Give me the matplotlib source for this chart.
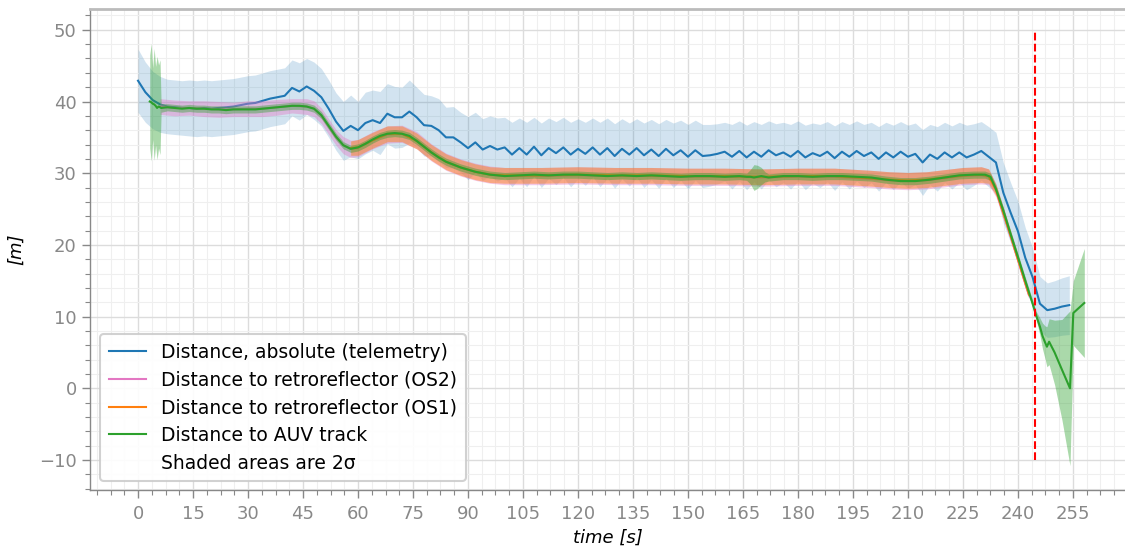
import numpy as np
import matplotlib
matplotlib.use("Agg")
import matplotlib.pyplot as plt
from matplotlib.ticker import MultipleLocator, AutoMinorLocator
from matplotlib.lines import Line2D

# ---------------- data ----------------
# Telemetry (absolute distance)
blue_t = [0, 2, 4, 6, 8, 10, 12, 14, 16, 18, 20, 22, 24, 26, 28, 30,
          32, 34, 36, 38, 40, 42, 44, 46, 48, 50, 52, 54, 56, 58, 60, 62,
          64, 66, 68, 70, 72, 74, 76, 78, 80, 82, 84, 86, 88, 90, 92, 94,
          96, 98, 100, 102, 104, 106, 108, 110, 112, 114, 116, 118, 120, 122, 124, 126,
          128, 130, 132, 134, 136, 138, 140, 142, 144, 146, 148, 150, 152, 154, 156, 158,
          160, 162, 164, 166, 168, 170, 172, 174, 176, 178, 180, 182, 184, 186, 188, 190,
          192, 194, 196, 198, 200, 202, 204, 206, 208, 210, 212, 214, 216, 218, 220, 222,
          224, 226, 228, 230, 232, 234, 236, 238, 240, 242, 244, 246, 248, 250, 252, 254]
blue_v = [42.9, 41.3, 40.2, 39.6, 39.3, 39.2, 39.1, 39.1, 39.0, 39.1, 39.0, 39.1, 39.2, 39.3, 39.5, 39.7,
          39.8, 40.1, 40.4, 40.6, 40.8, 41.9, 41.4, 42.1, 41.5, 40.6, 39.0, 37.2, 35.9, 36.6, 36.0, 37.0,
          37.4, 37.0, 38.3, 37.8, 37.8, 38.6, 37.8, 36.7, 36.6, 36.0, 35.0, 35.0, 34.3, 33.5, 34.3, 33.3,
          33.8, 33.3, 33.6, 32.6, 33.5, 32.6, 33.7, 32.5, 33.5, 32.8, 33.6, 32.6, 33.4, 32.7, 33.6, 32.6,
          33.5, 32.4, 33.4, 32.6, 33.5, 32.5, 33.3, 32.4, 33.4, 32.5, 33.2, 32.3, 33.2, 32.4, 32.5, 32.7,
          33.0, 32.3, 33.1, 32.2, 33.0, 32.3, 33.2, 32.5, 32.9, 32.3, 33.1, 32.2, 32.8, 32.4, 33.0, 32.1,
          33.0, 32.3, 33.1, 32.4, 32.9, 32.0, 32.9, 32.2, 33.0, 32.3, 32.7, 31.5, 32.6, 32.0, 32.9, 32.2,
          32.9, 32.2, 32.6, 33.1, 32.3, 31.5, 27.3, 24.5, 21.9, 18.2, 15.5, 11.8, 10.9, 11.1, 11.4, 11.6]
blue_2s = [4.4, 4.2, 4.0, 3.9, 3.8, 3.8, 3.8, 3.9, 3.9, 3.9, 3.9, 3.9, 3.9, 3.9, 3.9, 3.9,
           3.9, 3.9, 3.9, 3.9, 3.9, 3.9, 4.0, 3.9, 4.0, 4.0, 4.0, 4.0, 4.1, 4.3, 4.0, 4.3,
           4.2, 4.4, 4.2, 4.3, 4.2, 4.4, 4.2, 4.3, 4.2, 4.4, 4.2, 4.3, 4.2, 4.4, 4.2, 4.3,
           4.2, 4.4, 4.2, 4.5, 4.2, 4.5, 4.1, 4.5, 4.2, 4.4, 4.2, 4.5, 4.2, 4.4, 4.1, 4.5,
           4.2, 4.5, 4.2, 4.4, 4.1, 4.5, 4.2, 4.5, 4.1, 4.5, 4.2, 4.5, 4.2, 4.4, 4.3, 4.2,
           4.1, 4.5, 4.2, 4.5, 4.2, 4.5, 4.1, 4.4, 4.2, 4.5, 4.2, 4.5, 4.2, 4.4, 4.2, 4.5,
           4.2, 4.5, 4.2, 4.4, 4.2, 4.5, 4.2, 4.5, 4.2, 4.4, 4.3, 4.6, 4.2, 4.5, 4.2, 4.4,
           4.2, 4.5, 4.3, 4.1, 4.2, 4.2, 4.2, 4.2, 4.2, 4.2, 4.1, 3.8, 3.8, 3.9, 4.0, 4.1]

# Retroreflector OS2
pink_t = [6, 10, 14, 18, 22, 26, 30, 34, 38, 42, 46, 48, 50, 52, 54, 56,
          58, 60, 64, 68, 72, 76, 80, 84, 88, 92, 96, 100, 110, 120, 130, 140,
          150, 160, 170, 180, 190, 200, 205, 210, 215, 220, 225, 230, 232, 234,
          238, 242, 243]
pink_v = [39.3, 39.1, 39.1, 39.0, 38.9, 38.9, 39.0, 39.0, 39.2, 39.4, 39.3, 39.0, 38.0, 36.5, 35.0, 33.9,
          33.4, 33.5, 34.6, 35.4, 35.5, 34.6, 32.9, 31.6, 30.8, 30.2, 29.8, 29.6, 29.6, 29.7, 29.6, 29.6,
          29.5, 29.5, 29.4, 29.5, 29.5, 29.2, 29.0, 28.9, 29.0, 29.3, 29.6, 29.7, 29.5, 27.6,
          21.2, 14.6, 13.0]
pink_2s = [1.1, 1.1, 1.0, 1.1, 1.1, 1.0, 1.1, 1.1, 1.1, 1.0, 1.1, 1.1, 1.1, 1.1, 1.1, 1.2,
           1.2, 1.2, 1.2, 1.2, 1.2, 1.2, 1.2, 1.2, 1.2, 1.2, 1.2, 1.2, 1.2, 1.2, 1.2, 1.2,
           1.2, 1.2, 1.2, 1.2, 1.2, 1.2, 1.2, 1.2, 1.2, 1.2, 1.2, 1.2, 1.1, 0.9,
           0.7, 0.6, 0.6]

# Retroreflector OS1
orange_t = [58, 60, 64, 68, 72, 76, 80, 84, 88, 92, 96, 100, 110, 120, 130, 140,
            150, 160, 170, 180, 190, 200, 205, 210, 215, 220, 225, 230, 232, 234, 238, 242, 243]
orange_v = [33.5, 33.6, 34.6, 35.5, 35.5, 34.5, 32.9, 31.6, 30.8, 30.2, 29.8, 29.7, 29.7, 29.8, 29.7, 29.7,
            29.6, 29.6, 29.5, 29.6, 29.6, 29.3, 29.1, 29.0, 29.1, 29.4, 29.7, 29.8, 29.6, 27.7, 21.3, 14.7, 13.1]
orange_2s = [1.0, 1.1, 1.1, 1.1, 1.1, 1.1, 1.1, 1.1, 1.1, 1.1, 1.1, 1.1, 1.1, 1.1, 1.1, 1.1,
             1.1, 1.1, 1.1, 1.1, 1.1, 1.1, 1.1, 1.1, 1.1, 1.1, 1.1, 1.1, 1.0, 0.8, 0.6, 0.5, 0.5]

# AUV track
green_t = [3.2, 3.6, 4.0, 4.4, 4.8, 5.2, 5.6, 6.0, 6.3, 8, 10, 12, 14, 16, 18, 20,
           22, 24, 26, 28, 30, 32, 34, 36, 38, 40, 42, 44, 46, 48, 50, 52,
           54, 56, 58, 60, 62, 64, 66, 68, 70, 72, 74, 76, 78, 80, 82, 84,
           86, 88, 90, 92, 94, 96, 98, 100, 104, 108, 112, 116, 120, 124, 128, 132,
           136, 140, 144, 148, 152, 156, 160, 164, 166, 167, 168, 169, 170, 171, 172, 176,
           180, 184, 188, 192, 196, 200, 204, 208, 212, 216, 220, 224, 228, 231, 232.5, 234,
           236, 238, 240, 242, 244, 245, 246, 246.7, 247.4, 247.9, 248.5, 250, 252, 254.2, 255.1, 258.1]
green_v = [40.0, 39.9, 39.7, 39.6, 39.4, 39.1, 39.3, 39.2, 39.1, 39.2, 39.1, 39.0, 39.1, 39.0, 39.0, 38.9,
           38.9, 38.8, 38.9, 38.9, 38.9, 38.9, 39.0, 39.1, 39.2, 39.3, 39.4, 39.4, 39.3, 39.0, 38.1, 36.6,
           35.1, 33.9, 33.4, 33.6, 34.1, 34.7, 35.2, 35.5, 35.6, 35.5, 35.2, 34.5, 33.7, 32.9, 32.2, 31.6,
           31.2, 30.8, 30.5, 30.2, 30.0, 29.8, 29.7, 29.6, 29.7, 29.8, 29.7, 29.8, 29.8, 29.7, 29.6, 29.7,
           29.6, 29.7, 29.6, 29.5, 29.6, 29.6, 29.5, 29.6, 29.5, 29.5, 29.4, 29.5, 29.6, 29.5, 29.4, 29.6,
           29.6, 29.5, 29.6, 29.6, 29.5, 29.4, 29.1, 28.9, 28.9, 29.1, 29.4, 29.7, 29.8, 29.8, 29.5, 27.8,
           24.8, 21.5, 18.3, 15.0, 11.8, 10.1, 8.6, 7.3, 6.4, 5.8, 6.5, 5.0, 2.6, 0.0, 10.5, 11.9]
green_2s = [6.5, 8.2, 5.0, 7.8, 5.5, 7.2, 5.8, 6.6, 0.6, 0.5, 0.5, 0.5, 0.5, 0.5, 0.5, 0.5,
            0.5, 0.5, 0.5, 0.5, 0.5, 0.5, 0.5, 0.5, 0.5, 0.5, 0.5, 0.5, 0.5, 0.5, 0.5, 0.5,
            0.5, 0.5, 0.5, 0.5, 0.5, 0.5, 0.5, 0.5, 0.5, 0.5, 0.5, 0.5, 0.5, 0.5, 0.5, 0.5,
            0.5, 0.5, 0.5, 0.5, 0.5, 0.5, 0.5, 0.5, 0.5, 0.5, 0.5, 0.5, 0.5, 0.5, 0.5, 0.5,
            0.5, 0.5, 0.5, 0.5, 0.5, 0.5, 0.5, 0.5, 0.5, 1.0, 1.8, 1.6, 1.2, 0.7, 0.5, 0.5,
            0.5, 0.5, 0.5, 0.5, 0.5, 0.5, 0.5, 0.5, 0.5, 0.5, 0.5, 0.5, 0.5, 0.5, 0.5, 0.5,
            0.5, 0.5, 0.5, 0.5, 0.5, 0.6, 1.2, 1.8, 2.3, 2.8, 3.2, 4.5, 7.0, 10.8, 4.5, 7.6]

event_t = 244.7
event_span = [-10, 50]

labels = ["Distance, absolute (telemetry)", "Distance to retroreflector (OS2)",
          "Distance to retroreflector (OS1)", "Distance to AUV track", "Shaded areas are 2σ"]

x_ticks = list(range(0, 256, 15))
y_ticks = list(range(-10, 51, 10))

# ---------------- plot ----------------
C_BLUE, C_ORANGE, C_GREEN, C_PINK = "#1f77b4", "#ff7f0e", "#2ca02c", "#e377c2"

fig = plt.figure(figsize=(11.25, 5.47), dpi=100)
ax = fig.add_axes([0.08, 0.104, 0.92, 0.8795])

def band(t, v, s):
    t = np.asarray(t); v = np.asarray(v); s = np.asarray(s)
    return t, v - s, v + s

t, lo, hi = band(blue_t, blue_v, blue_2s)
ax.fill_between(t, lo, hi, color=C_BLUE, alpha=0.2, lw=0, zorder=2)
ax.plot(blue_t, blue_v, color=C_BLUE, lw=1.5, zorder=3, label=labels[0])

t, lo, hi = band(pink_t, pink_v, pink_2s)
ax.fill_between(t, lo, hi, color=C_PINK, alpha=0.4, lw=0, zorder=4)
ax.plot(pink_t, pink_v, color=C_PINK, lw=1.5, zorder=4, label=labels[1])

t, lo, hi = band(orange_t, orange_v, orange_2s)
ax.fill_between(t, lo, hi, color=C_ORANGE, alpha=0.45, lw=0, zorder=5)
ax.plot(orange_t, orange_v, color=C_ORANGE, lw=1.5, zorder=5, label=labels[2])

t, lo, hi = band(green_t, green_v, green_2s)
ax.fill_between(t, lo, hi, color=C_GREEN, alpha=0.4, lw=0, zorder=6)
ax.plot(green_t, green_v, color=C_GREEN, lw=1.5, zorder=7, label=labels[3])

ax.vlines(event_t, event_span[0], event_span[1], colors="red", linestyles="--", lw=1.5, zorder=8)

ax.set_xlim(-13.1, 269.2)
ax.set_ylim(-14.2, 52.9)
ax.xaxis.set_major_locator(MultipleLocator(15))
ax.xaxis.set_minor_locator(AutoMinorLocator(4))
ax.yaxis.set_major_locator(MultipleLocator(10))
ax.yaxis.set_minor_locator(AutoMinorLocator(5))
ax.set_xticks(x_ticks)
ax.set_yticks(y_ticks)

ax.grid(which="major", color="#dcdcdc", lw=1.0, zorder=0)
ax.grid(which="minor", color="#efefef", lw=0.8, zorder=0)
ax.set_axisbelow(True)

for side in ("left", "bottom"):
    ax.spines[side].set_color("#888888")
    ax.spines[side].set_linewidth(1.0)
ax.spines["top"].set_color("#bbbbbb")
ax.spines["top"].set_linewidth(2.0)
ax.spines["right"].set_visible(False)

ax.tick_params(which="both", colors="#888888", labelcolor="#888888", labelsize=13)
ax.tick_params(which="major", length=6, width=1)
ax.tick_params(which="minor", length=3.5, width=0.8)
ax.tick_params(axis="x", which="both", top=False)
ax.tick_params(axis="y", which="both", right=False)
ax.tick_params(axis="x", which="major", pad=5)

ax.set_xlabel("time [s]", fontsize=13, style="italic", labelpad=4)
ax.set_ylabel("[m]", fontsize=13, style="italic", labelpad=10)

handles, lbls = ax.get_legend_handles_labels()
handles.append(Line2D([], [], color="none"))
lbls.append(labels[4])
leg = ax.legend(handles, lbls, loc="lower left", bbox_to_anchor=(0.001, -0.001),
                fontsize=13.5, frameon=True, fancybox=True, framealpha=0.9,
                edgecolor="#cccccc", borderpad=0.45, labelspacing=0.47, handletextpad=0.8,
                handlelength=2.0)
leg.get_frame().set_linewidth(1.5)

fig.savefig("out.png", dpi=100)
